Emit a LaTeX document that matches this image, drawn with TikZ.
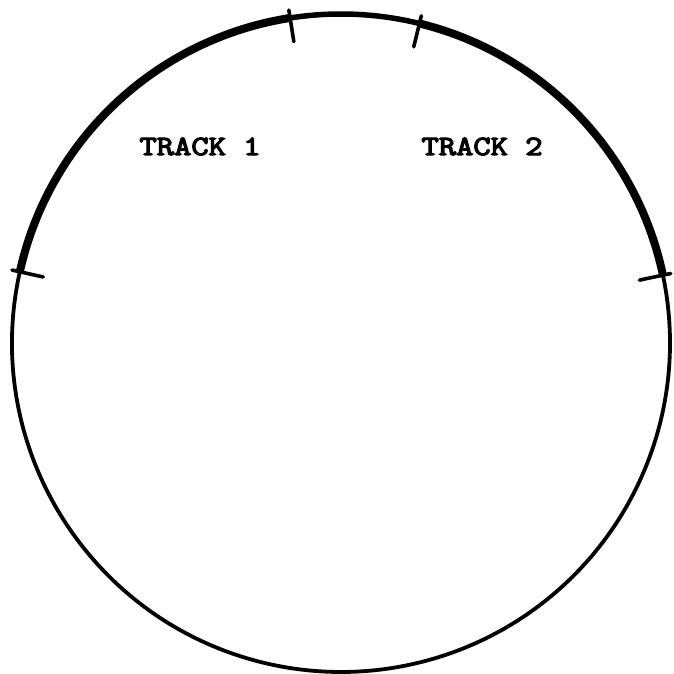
\documentclass[tikz,border=0pt]{standalone}
\usepackage{fontspec}
\newfontfamily\trackfont[FakeBold=4]{Latin Modern Mono}
\usepackage{tikz}
\usetikzlibrary{calc}

\begin{document}
\begin{tikzpicture}[
    x=1pt, y=1pt,
    rim/.style={line width=3.8pt, black},
    trackarc/.style={line width=8pt, black},
    gaparc/.style={line width=5.5pt, black},
    tickmark/.style={line width=3.6pt, black, line cap=round},
    tracklabel/.style={font=\trackfont\fontsize{28}{30}\selectfont, xscale=1.2, inner sep=0pt}
]
\useasboundingbox (0,0) rectangle (674,674);
\def\rad{329}
\coordinate (c) at (341,331);
% thin part of the ring
\draw[rim] (c) ++(167.5:\rad) arc[start angle=167.5, end angle=371.9, radius=\rad];
% the two tracks and the gap between them
\draw[trackarc] (c) ++(98.9:\rad) arc[start angle=98.9, end angle=167.5, radius=\rad];
\draw[trackarc] (c) ++(11.9:\rad) arc[start angle=11.9, end angle=76.2, radius=\rad];
\draw[gaparc] (c) ++(76.2:\rad) arc[start angle=76.2, end angle=98.9, radius=\rad];
% ticks at the track ends
\foreach \ang in {11.9, 76.2, 98.9, 167.5}
    \draw[tickmark] ($(c)+(\ang:\rad-24)$) -- ($(c)+(\ang:\rad+8)$);
\node[tracklabel] (track1) at (200,527.5) {TRACK 1};
\node[tracklabel] (track2) at (482,527.5) {TRACK 2};
\end{tikzpicture}
\end{document}
